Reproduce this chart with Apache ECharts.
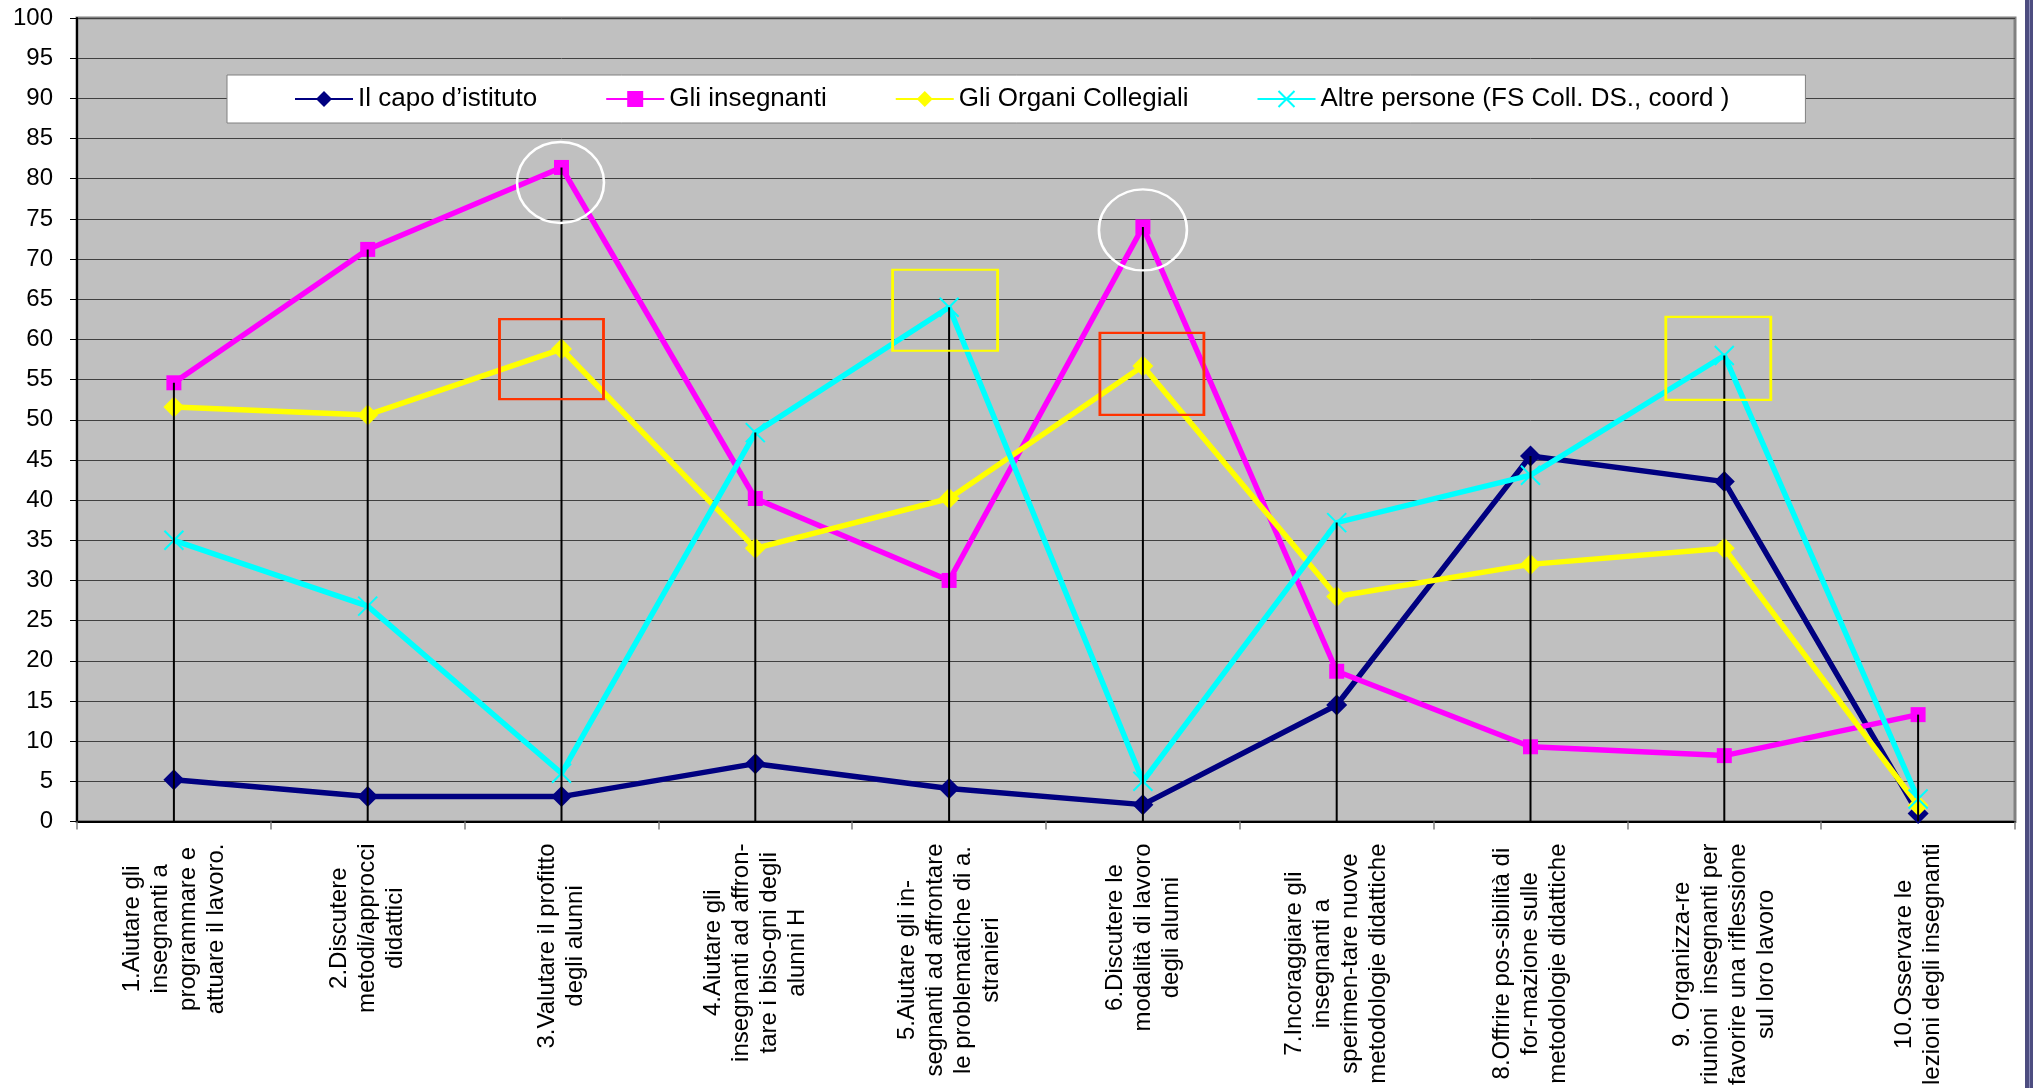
<!DOCTYPE html>
<html><head><meta charset="utf-8">
<script src="https://cdn.jsdelivr.net/npm/echarts@6/dist/echarts.min.js"></script>
<style>html,body{margin:0;padding:0;background:#fff;}#c{width:2033px;height:1088px;}</style>
</head><body><div id="c"></div>
<script>
// ---- data ----
const categories = [
  "1.Aiutare gli\ninsegnanti a\nprogrammare e\nattuare il lavoro.",
  "2.Discutere\nmetodi/approcci\ndidattici",
  "3.Valutare il profitto\ndegli alunni",
  "4.Aiutare gli\ninsegnanti ad affron-\ntare i biso-gni degli\nalunni H",
  "5.Aiutare gli in-\nsegnanti ad affrontare\nle problematiche di a.\nstranieri",
  "6.Discutere le\nmodalità di lavoro\ndegli alunni",
  "7.Incoraggiare gli\ninsegnanti a\nsperimen-tare nuove\nmetodologie didattiche",
  "8.Offrire pos-sibilità di\nfor-mazione sulle\nmetodologie didattiche",
  "9. Organizza-re\nriunioni  insegnanti per\nfavorire una riflessione\nsul loro lavoro",
  "10.Osservare le\nlezioni degli insegnanti"
];
const seriesNames = ["Il capo d\u2019istituto", "Gli insegnanti", "Gli Organi Collegiali", "Altre persone (FS Coll. DS., coord )"];
const capo       = [5.2, 3.1, 3.1, 7.2, 4.1, 2.1, 14.5, 45.5, 42.3, 1.0];
const insegnanti = [54.6, 71.2, 81.4, 40.2, 30.0, 74.0, 18.7, 9.3, 8.2, 13.3];
const organi     = [51.6, 50.6, 58.8, 34.0, 40.2, 56.7, 28.0, 32.0, 34.0, 2.0];
const altre      = [35.0, 26.8, 6.0, 48.4, 64.0, 5.0, 37.2, 43.1, 58.0, 2.8];
const yMin = 0, yMax = 100, yStep = 5;
// highlighted points (category indexes)
const circledInsegnanti = [2, 5];
const redBoxOrgani = [2, 5];
const yellowBoxAltre = [4, 8];

// ---- chart ----
const FONT = "'Liberation Sans', Arial, sans-serif";
const dropLine = categories.map((_, i) => Math.max(capo[i], insegnanti[i], organi[i], altre[i]));

function mark(values, idx, symbol, size, offset, color) {
  return {
    coord: [idx, values[idx]], symbol: symbol, symbolSize: size, symbolOffset: offset,
    itemStyle: { color: 'rgba(0,0,0,0)', borderColor: color, borderWidth: 2.5 },
    label: { show: false }
  };
}

const chart = echarts.init(document.getElementById('c'), null, { renderer: 'canvas' });
chart.setOption({
  animation: false,
  backgroundColor: '#ffffff',
  textStyle: { fontFamily: FONT },
  grid: { left: 77, top: 18, width: 1938, height: 804, show: true,
          backgroundColor: '#C0C0C0', borderColor: '#808080', borderWidth: 3 },
  legend: {
    data: seriesNames, left: 227, top: 75, padding: [11, 76, 11, 67],
    itemGap: 68, itemWidth: 58, itemHeight: 20,
    backgroundColor: '#ffffff', borderColor: '#808080', borderWidth: 1,
    textStyle: { fontFamily: FONT, fontSize: 26, color: '#000' }
  },
  xAxis: {
    type: 'category', data: categories, boundaryGap: true,
    axisLine: { lineStyle: { color: '#000', width: 2 } },
    axisTick: { show: true, length: 8, lineStyle: { color: '#808080', width: 1.5 } },
    splitLine: { show: false },
    axisLabel: {
      interval: 0, rotate: 90, margin: 22,
      formatter: v => v.split('\n').map(l => '{c|' + l + '}').join('\n'),
      rich: { c: { align: 'center', fontSize: 24, lineHeight: 28, fontFamily: FONT, color: '#000' } }
    }
  },
  yAxis: {
    type: 'value', min: yMin, max: yMax, interval: yStep,
    axisLine: { show: true, lineStyle: { color: '#000', width: 2 } },
    axisTick: { show: true, length: 7, lineStyle: { color: '#000', width: 1 } },
    axisLabel: { fontSize: 24, fontFamily: FONT, color: '#000', margin: 24 },
    splitLine: { show: true, lineStyle: { color: '#404040', width: 1 } }
  },
  graphic: [
    { type: 'rect', right: 0, top: 0, shape: { width: 8, height: 1088 }, style: { fill: '#4D4D80' }, silent: true },
    { type: 'rect', right: 3, top: 0, shape: { width: 1, height: 1088 }, style: { fill: '#8A8AB8' }, silent: true }
  ],
  series: [
    { name: seriesNames[0], type: 'line', data: capo, symbol: 'diamond', symbolSize: 21, showAllSymbol: true,
      lineStyle: { color: '#000080', width: 5.5 }, itemStyle: { color: '#000080' }, z: 2 },
    { name: seriesNames[1], type: 'line', data: insegnanti, symbol: 'rect', symbolSize: 15, showAllSymbol: true,
      lineStyle: { color: '#FF00FF', width: 5.5 }, itemStyle: { color: '#FF00FF' }, z: 2,
      markPoint: { silent: true, data: [
        mark(insegnanti, circledInsegnanti[0], 'circle', [87, 81], [-1, 15], '#ffffff'),
        mark(insegnanti, circledInsegnanti[1], 'circle', [88, 81], [0, 3], '#ffffff')
      ] } },
    { name: seriesNames[2], type: 'line', data: organi, symbol: 'diamond', symbolSize: 21, showAllSymbol: true,
      lineStyle: { color: '#FFFF00', width: 5.5 }, itemStyle: { color: '#FFFF00' }, z: 2,
      markPoint: { silent: true, data: [
        mark(organi, redBoxOrgani[0], 'rect', [104, 80], [-10, 10], '#FF3300'),
        mark(organi, redBoxOrgani[1], 'rect', [104, 82], [9, 8], '#FF3300')
      ] } },
    { name: seriesNames[3], type: 'line', data: altre, symbol: 'path://M0,0L10,10M10,0L0,10', symbolSize: 19, showAllSymbol: true,
      lineStyle: { color: '#00FFFF', width: 5.5 }, itemStyle: { color: '#00FFFF', borderColor: '#00FFFF', borderWidth: 2 }, z: 2,
      markPoint: { silent: true, data: [
        mark(altre, yellowBoxAltre[0], 'rect', [105, 81], [-4, 3], '#FFFF00'),
        mark(altre, yellowBoxAltre[1], 'rect', [105, 83], [-6, 3], '#FFFF00')
      ] } },
    { name: 'drop', type: 'bar', data: dropLine, barWidth: 2, itemStyle: { color: '#000' }, z: 3, silent: true }
  ]
});
</script>
</body></html>
